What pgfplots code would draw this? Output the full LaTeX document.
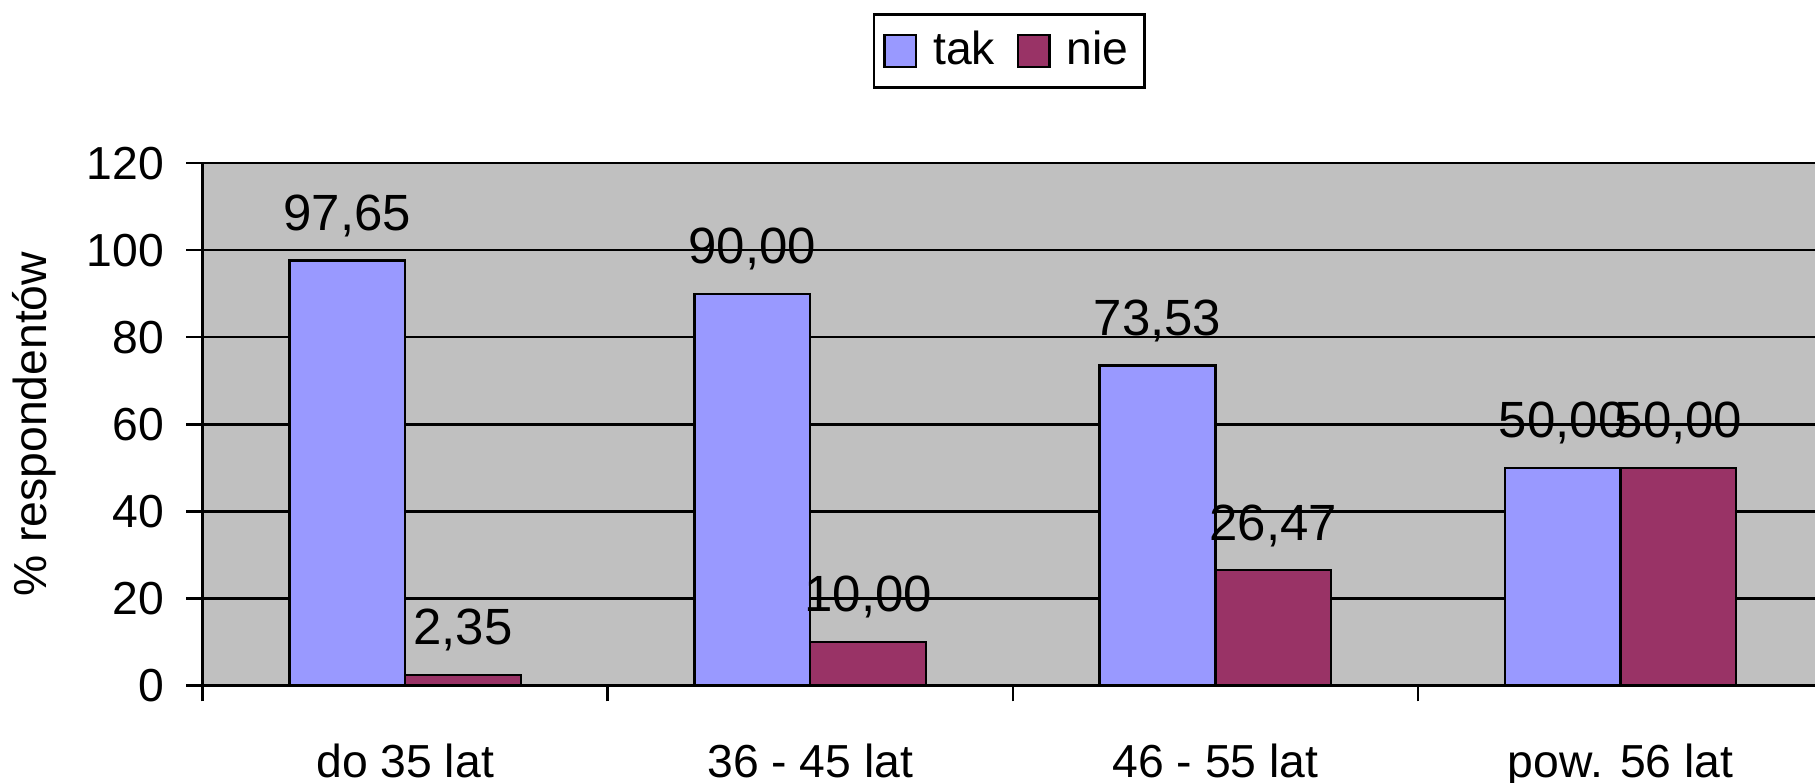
\documentclass[border=0pt]{standalone}
\usepackage{pgfplots}
\pgfplotsset{compat=1.18}
\usepackage{fontspec}
\setmainfont{Liberation Sans}
\definecolor{tak}{HTML}{9999FF}
\definecolor{nie}{HTML}{993366}
\definecolor{bg}{HTML}{C0C0C0}
\begin{document}
\begin{tikzpicture}
\pgfplotsset{mylegend/.style={legend image code/.code={\draw[##1,line width=0.5pt] (0pt,-3.5pt) rectangle (6.75pt,3.5pt);}}}
\begin{axis}[
  at={(43.75pt,21pt)}, anchor=south west,
  scale only axis, width=350pt, height=112.75pt,
  xmin=-0.5, xmax=3.5, ymin=0, ymax=120,
  ybar=0pt, bar width=25pt,
  axis x line*=bottom, axis y line*=left,
  axis line style={black, line width=0.55pt},
  axis background/.style={fill=bg, draw=gray, line width=0.5pt},
  ytick={0,20,...,120},
  ymajorgrids, grid style={black, line width=0.55pt},
  tick style={black, line width=0.55pt},
  tick align=outside, major tick length=3.5pt, minor tick length=3.5pt,
  xtick={0,1,2,3},
  xticklabels={do 35 lat, 36 - 45 lat, 46 - 55 lat, pow. 56 lat},
  major x tick style={draw=none},
  minor xtick={-0.5,0.5,1.5,2.5,3.5},
  xticklabel style={anchor=base, yshift=-16.5pt},
  yticklabel style={xshift=-1.25pt},
  tick label style={font=\fontsize{10}{12}\selectfont},
  /pgf/number format/assume math mode=true,
  every axis y label/.style={at={(axis description cs:0,0.5)}, rotate=90, anchor=center, yshift=36.25pt, font=\fontsize{10}{12}\selectfont},
  ylabel={\% respondentów},
  nodes near coords={\pgfmathprintnumber[fixed,fixed zerofill,precision=2,use comma,assume math mode=true]{\pgfplotspointmeta}},
  every node near coord/.append style={font=\fontsize{11}{13}\selectfont, anchor=base, yshift=6.5pt, black},
  legend style={at={(0.4979,1.2151)}, anchor=center, legend columns=2, draw=black, line width=0.55pt,
    font=\fontsize{10}{12}\selectfont, inner xsep=2pt, inner ysep=2pt,
    nodes={inner sep=1.5pt},
    /tikz/every odd column/.append style={column sep=2pt},
    /tikz/every even column/.append style={column sep=3.25pt}},
]
\addplot[fill=tak, draw=black, line width=0.5pt, mylegend] coordinates {(0,97.65) (1,90.00) (2,73.53) (3,50.00)};
\addplot[fill=nie, draw=black, line width=0.5pt, mylegend] coordinates {(0,2.35) (1,10.00) (2,26.47) (3,50.00)};
\legend{tak, nie}
\end{axis}
\pgfresetboundingbox
\path[use as bounding box] (0,0) rectangle (392pt,169pt);
\end{tikzpicture}
\end{document}
